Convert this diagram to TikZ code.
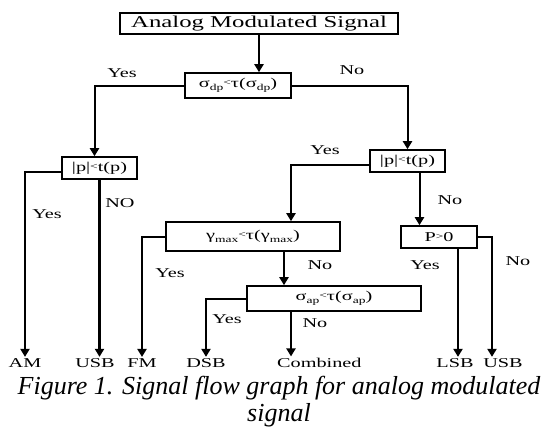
\documentclass[tikz,border=0pt]{standalone}
\usepackage{fontspec}
\setmainfont{Liberation Serif}
\newfontfamily\diafont{Liberation Serif}[FakeStretch=1.5]
\usetikzlibrary{arrows.meta, positioning, calc}

\newcommand{\dsub}[1]{\raisebox{-0.45ex}{\fontsize{9}{9}\selectfont #1}}
\newcommand{\smallrel}[1]{\raisebox{0.35ex}{\fontsize{9}{9}\selectfont #1}}

\begin{document}
\begin{tikzpicture}[
    x=1pt, y=-1pt,
    box/.style={draw, line width=1.6pt, inner sep=0pt,
                font=\diafont\fontsize{13.5}{15}\selectfont},
    arrow/.style={-{Triangle[length=8pt,width=9pt]}, line width=2pt},
    heavy/.style={arrow, line width=2.8pt},
    lbl/.style={font=\diafont\fontsize{13.5}{15}\selectfont, inner sep=0pt},
    leaf/.style={lbl, anchor=base, inner sep=1pt}
]
    \useasboundingbox (0,0) rectangle (555,437);

    % decision boxes
    \node[box, minimum width=278pt, minimum height=21pt,
          font=\diafont\fontsize{16.5}{18}\selectfont] (sig) at (259,23.5) {Analog Modulated Signal};
    \node[box, minimum width=106pt, minimum height=25pt] (sdp) at (238,85.5)
        {σ\dsub{dp}\smallrel{<}τ(σ\dsub{dp})};
    \node[box, minimum width=75pt, minimum height=22pt] (pa) at (99.5,168) {|p|\smallrel{<}t(p)};
    \node[box, minimum width=75pt, minimum height=22pt] (pb) at (407.5,161) {|p|\smallrel{<}t(p)};
    \node[box, minimum width=174pt, minimum height=29pt] (gam) at (253,236.5)
        {γ\dsub{max}\smallrel{<}τ(γ\dsub{max})};
    \node[box, minimum width=174pt, minimum height=25pt] (sap) at (334,298.5)
        {σ\dsub{ap}\smallrel{<}τ(σ\dsub{ap})};
    \node[box, minimum width=76pt, minimum height=22pt] (pz) at (439,237) {P\smallrel{>}0};

    % outcomes
    \node[leaf] (am) at (25,367) {AM};
    \node[leaf] (usba) at (95,367) {USB};
    \node[leaf] (fm) at (142,367) {FM};
    \node[leaf] (dsb) at (206,367) {DSB};
    \node[leaf, anchor=base west] (comb) at (276,367) {Combined};
    \node[leaf] (lsb) at (455,367) {LSB};
    \node[leaf] (usbb) at (503,367) {USB};

    % connectors
    \draw[heavy] (sig.south) -- (sig.south |- sdp.north);
    \draw[arrow] (sdp.west) -| ($(pa.north)+(-5,0)$);
    \draw[arrow] (sdp.east) -| (pb.north);
    \draw[arrow] ($(pa.west)+(0,4)$) -| (am.north);
    \draw[heavy] (pa.south) -- (pa.south |- usba.north);
    \draw[arrow] ($(pb.west)+(0,4)$) -| ($(gam.north)+(38,0)$);
    \draw[arrow] ($(pb.south)+(12,0)$) coordinate (pbs) -- (pbs |- pz.north);
    \draw[arrow] (gam.west) -| (fm.north);
    \draw[heavy] ($(gam.south)+(31,0)$) coordinate (gs) -- (gs |- sap.north);
    \draw[arrow] (sap.west) -| (dsb.north);
    \draw[heavy] ($(sap.south)+(-43,0)$) coordinate (ss) -- (ss |- comb.north);
    \draw[heavy] ($(pz.south)+(19,0)$) coordinate (ps) -- (ps |- lsb.north);
    \draw[heavy] (pz.east) -| ($(usbb.north)+(-11,0)$);

    % branch labels
    \node[lbl] at (122,73) {Yes};
    \node[lbl] at (352,70) {No};
    \node[lbl] at (47,214) {Yes};
    \node[lbl] at (120,203) {NO};
    \node[lbl] at (325,150) {Yes};
    \node[lbl] at (450,200) {No};
    \node[lbl] at (170,273) {Yes};
    \node[lbl] at (320,265) {No};
    \node[lbl] at (227,319) {Yes};
    \node[lbl] at (315,323) {No};
    \node[lbl] at (425,265) {Yes};
    \node[lbl] at (518,261) {No};

    % caption
    \node[font=\itshape\fontsize{26}{24}\selectfont, align=center] (cap) at (279,402)
        {Figure 1. Signal flow graph for analog modulated\\[3pt]signal};
\end{tikzpicture}
\end{document}
